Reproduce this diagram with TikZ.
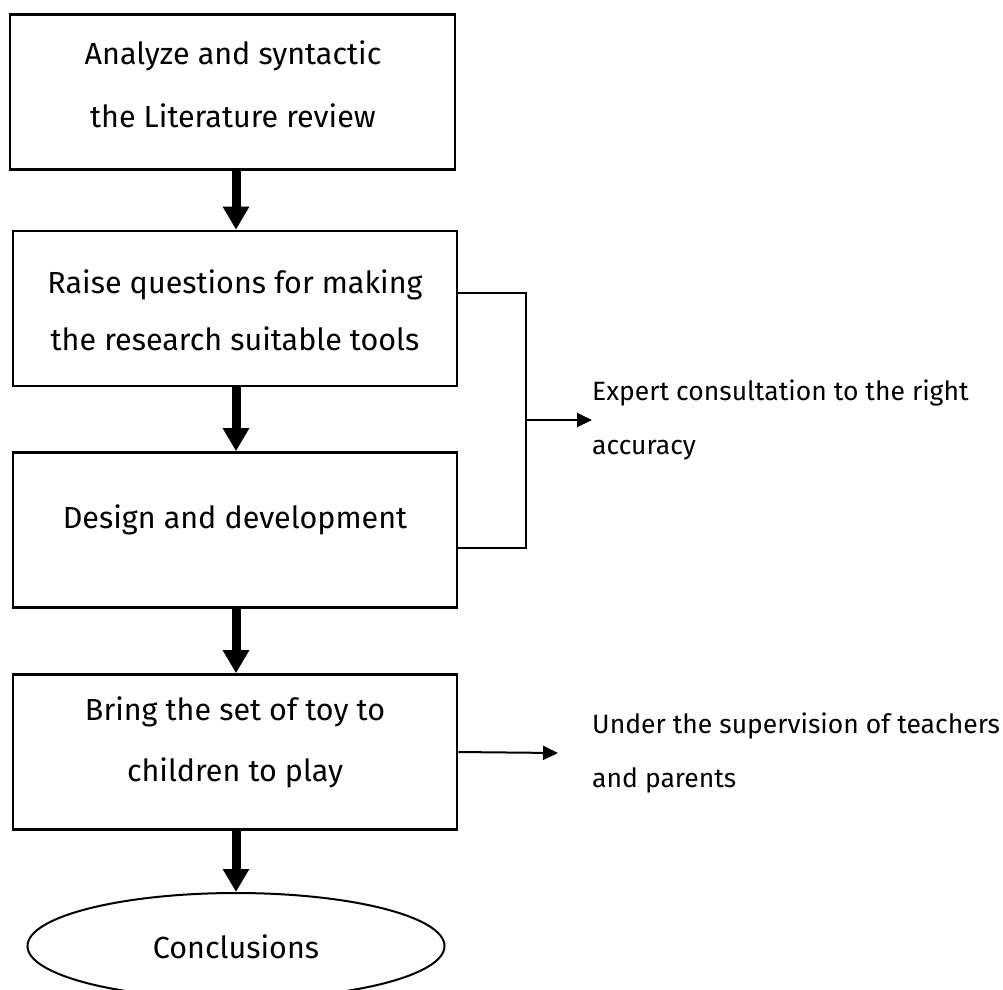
\documentclass[tikz,border=0pt]{standalone}
\usepackage{fontspec}
\setmainfont{Fira Sans}
\usetikzlibrary{arrows.meta,shapes.geometric}
\begin{document}
\begin{tikzpicture}[x=1pt,y=-1pt,
  box/.style={draw,line width=2.6pt,minimum width=444pt,minimum height=155pt,inner sep=0pt},
  oval/.style={draw,ellipse,line width=2pt,minimum width=417pt,minimum height=106pt,inner sep=0pt},
  txt/.style={align=center,font=\fontsize{30.5}{59}\selectfont,inner sep=0pt},
  side/.style={align=left,anchor=west,font=\fontsize{26.5}{54}\selectfont,inner sep=0pt},
  fat/.style={line width=9pt,-{Triangle[width=25pt,length=23pt]}},
  thin/.style={line width=2pt,-{Triangle[width=14pt,length=15pt]}},
  brk/.style={line width=2pt}]
\useasboundingbox (0,0) rectangle (1003,989);
\node[box,minimum width=445pt] (b1) at (232.5,92) {};
\node[box] (b2) at (235,308.5) {};
\node[box] (b3) at (235,530) {};
\node[box] (b4) at (235,752) {};
\node[oval] (c) at (236,946) {};
\node[txt,font=\fontsize{30.5}{63}\selectfont] (t1) at (233,84) {Analyze and syntactic\\the Literature review};
\node[txt,font=\fontsize{30.5}{57}\selectfont] (t2) at (235,310) {Raise questions for making\\the research suitable tools};
\node[txt] (t3) at (235,520) {Design and development};
\node[txt,font=\fontsize{30.5}{61}\selectfont] (t4) at (235,742) {Bring the set of toy to\\children to play};
\node[txt] (t5) at (236,947) {Conclusions};
\node[side] (s1) at (592,420) {Expert consultation to the right\\accuracy};
\node[side] (s2) at (592,753) {Under the supervision of teachers\\and parents};
\coordinate (m) at (526,420);
\coordinate (me) at (592,420);
\coordinate (ue) at (558,753);
\draw[fat] (b1.south -| 236,0) -- (b2.north -| 236,0);
\draw[fat] (b2.south -| 236,0) -- (b3.north -| 236,0);
\draw[fat] (b3.south -| 236,0) -- (b4.north -| 236,0);
\draw[fat] (b4.south -| 236,0) -- (c.north -| 236,0);
\draw[brk] (b2.east |- 0,293) -- (526,293) -- (526,548) -- (b3.east |- 0,548);
\draw[thin] (m) -- (me);
\draw[thin] (b4.east |- 0,752) -- (ue);
\end{tikzpicture}
\end{document}
